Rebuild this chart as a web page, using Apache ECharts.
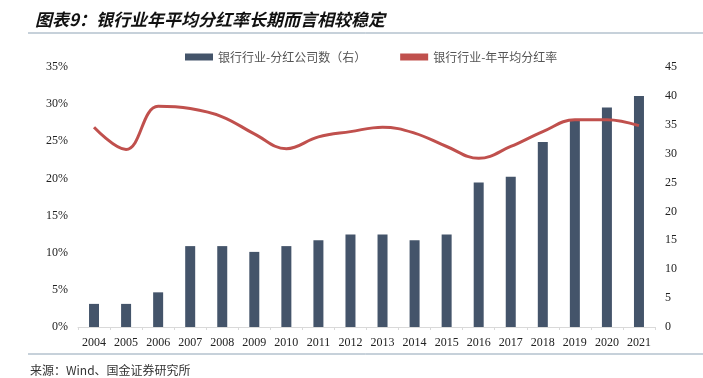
<!DOCTYPE html>
<html>
<head>
    <meta charset="UTF-8">
    <title>银行业年平均分红率</title>
    <script src="https://cdn.jsdelivr.net/npm/echarts@6/dist/echarts.min.js"></script>
    <style>
        html, body { margin: 0; padding: 0; background: #fff; }
        #chart { width: 703px; height: 378px; }
    </style>
</head>
<body>
<div id="chart"></div>
<script>
    // 年份
    var years = ['2004', '2005', '2006', '2007', '2008', '2009', '2010', '2011', '2012',
        '2013', '2014', '2015', '2016', '2017', '2018', '2019', '2020', '2021'];
    // 分红公司数（右轴）
    var companyCount = [4, 4, 6, 14, 14, 13, 14, 15, 16, 16, 15, 16, 25, 26, 32, 36, 38, 40];
    // 年平均分红率（%）
    var payoutRate = [26.9, 23.9, 29.7, 29.4, 28.3, 26.0, 24.0, 25.6, 26.3,
        26.9, 26.1, 24.3, 22.7, 24.3, 26.3, 27.9, 27.9, 27.1];

    var serif = '"Liberation Serif", "Noto Sans CJK SC", serif';
    var chart = echarts.init(document.getElementById('chart'));

    var option = {
        animation: false,
        title: {
            text: '图表9：银行业年平均分红率长期而言相较稳定',
            left: 30,
            top: 6,
            textStyle: {
                fontFamily: '"Noto Sans CJK SC"',
                fontSize: 17,
                fontWeight: 'bold',
                fontStyle: 'italic',
                color: '#111'
            }
        },
        legend: {
            top: 46,
            left: 180,
            itemGap: 34,
            itemWidth: 28,
            itemHeight: 7,
            textStyle: { fontFamily: '"Noto Sans CJK SC"', fontSize: 12, color: '#555' },
            data: [
                { name: '银行行业-分红公司数（右）', icon: 'rect' },
                { name: '银行行业-年平均分红率', icon: 'rect', itemStyle: { color: '#C0504D' } }
            ]
        },
        graphic: [
            { type: 'line', shape: { x1: 28, y1: 33, x2: 703, y2: 33 }, style: { stroke: '#8EA3B5', lineWidth: 1 } },
            { type: 'line', shape: { x1: 28, y1: 354, x2: 703, y2: 354 }, style: { stroke: '#8EA3B5', lineWidth: 1 } },
            {
                type: 'text', left: 30, top: 364,
                style: { text: '来源：Wind、国金证券研究所', font: '12px "Noto Sans CJK SC"', fill: '#333' }
            }
        ],
        grid: { left: 78, right: 48, top: 67, bottom: 51, containLabel: false },
        xAxis: {
            type: 'category',
            data: years,
            boundaryGap: true,
            axisLine: { lineStyle: { color: '#D9D9D9' } },
            axisTick: { show: true, length: 3, lineStyle: { color: '#D9D9D9' } },
            axisLabel: { fontFamily: serif, fontSize: 12, color: '#222', margin: 10, interval: 0 }
        },
        yAxis: [
            {
                type: 'value', min: 0, max: 35, interval: 5,
                splitLine: { show: false },
                axisLine: { show: false },
                axisTick: { show: false },
                axisLabel: { formatter: '{value}%', fontFamily: serif, fontSize: 12, color: '#222', margin: 10 }
            },
            {
                type: 'value', min: 0, max: 45, interval: 5,
                splitLine: { show: false },
                axisLine: { show: false },
                axisTick: { show: false },
                axisLabel: { fontFamily: serif, fontSize: 12, color: '#222', margin: 10 }
            }
        ],
        series: [
            {
                name: '银行行业-分红公司数（右）',
                type: 'bar',
                yAxisIndex: 1,
                barWidth: 10,
                itemStyle: { color: '#44546A' },
                data: companyCount
            },
            {
                name: '银行行业-年平均分红率',
                type: 'line',
                yAxisIndex: 0,
                smooth: 0.4,
                symbol: 'none',
                lineStyle: { color: '#C0504D', width: 3 },
                itemStyle: { color: '#C0504D' },
                data: payoutRate
            }
        ]
    };

    chart.setOption(option);
</script>
</body>
</html>
